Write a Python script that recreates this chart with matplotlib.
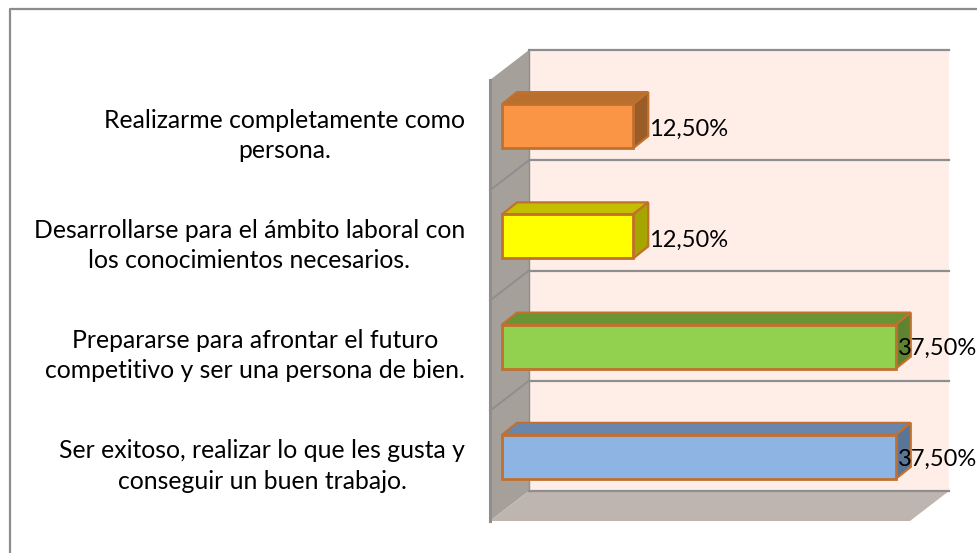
import numpy as np
import matplotlib
matplotlib.use("Agg")
import matplotlib.pyplot as plt
from matplotlib.patches import Polygon

# ===== DATOS =====
categorias = [
    "Ser exitoso, realizar lo que les gusta y\nconseguir un buen trabajo.",
    "Prepararse para afrontar el futuro\ncompetitivo y ser una persona de bien.",
    "Desarrollarse para el ámbito laboral con\nlos conocimientos necesarios.",
    "Realizarme completamente como\npersona.",
]
valores = [37.5, 37.5, 12.5, 12.5]
etiquetas = ["37,50%", "37,50%", "12,50%", "12,50%"]

# colores de cada barra: frente, tapa, lateral
frente = ["#8DB4E2", "#92D050", "#FFFF00", "#FB9546"]
tapa = ["#6A86AC", "#6A9331", "#C4BE00", "#B9702F"]
lateral = ["#5A7596", "#5F8330", "#A6A600", "#9B5D28"]
borde = "#C0702F"

plt.rcParams["font.family"] = ["Lato", "DejaVu Sans"]

W, H = 978, 553
fig = plt.figure(figsize=(W / 100, H / 100), dpi=100)

# marco del grafico: solo izquierda y arriba llegan a verse
fig.add_artist(plt.Line2D([9.5 / W, 9.5 / W, 1], [0, 1 - 9 / H, 1 - 9 / H],
                          color="#8C8C8C", lw=1.6))

# ===== EJES (plano frontal) =====
ax = fig.add_axes([490 / W, 1 - 521 / H, 420 / W, 441 / H])
ax.set_xlim(0, 40)
ax.set_ylim(0, 4)
ax.patch.set_alpha(0)
for s in ax.spines.values():
    s.set_visible(False)
ax.tick_params(length=0, labelbottom=False, pad=18, labelsize=17.8)
ax.set_xticks([])

# profundidad del 3D en unidades de datos
dx = 39 / 10.5
dy = 30 / 110.25
# hueco entre la pared y la barra
gap_x = 12 / 10.5
bar_dx = 15 / 10.5
bar_dy = 12 / 110.25
alto = 44 / 110.25


def poli(puntos, color, ec="none", lw=0, z=1):
    ax.add_patch(Polygon(puntos, closed=True, fc=color, ec=ec, lw=lw, zorder=z,
                         clip_on=False, joinstyle="miter"))


# pared del fondo, pared izquierda y suelo
poli([(dx, dy), (40 + dx, dy), (40 + dx, 4 + dy), (dx, 4 + dy)], "#FEEEE7")
poli([(0, 0), (dx, dy), (dx, 4 + dy), (0, 4)], "#A6A09B")
poli([(0, 0), (dx, dy), (40 + dx, dy), (40, 0)], "#BFB5B0")

# lineas de la cuadricula
for i in range(5):
    ax.plot([dx, 40 + dx], [i + dy, i + dy], color="#8E8E8E", lw=1.6,
            clip_on=False, zorder=2)
    if 0 < i < 4:
        ax.plot([0, dx], [i, i + dy], color="#8E8E8E", lw=1.4,
                clip_on=False, zorder=2)
ax.plot([0, 0], [0, 4], color="#8E8E8E", lw=2.2, clip_on=False, zorder=2)
ax.plot([dx, dx], [dy, 4 + dy], color="#8E8E8E", lw=1.0, clip_on=False, zorder=2)

# ===== BARRAS =====
pos = np.arange(len(valores)) + 0.5
for i, v in enumerate(valores):
    y0 = pos[i] + 9 / 110.25 - alto / 2
    y1 = y0 + alto
    x0 = gap_x
    x1 = gap_x + v
    poli([(x0, y1), (x0 + bar_dx, y1 + bar_dy), (x1 + bar_dx, y1 + bar_dy), (x1, y1)],
         tapa[i], borde, 1.6, 3)
    poli([(x1, y0), (x1 + bar_dx, y0 + bar_dy), (x1 + bar_dx, y1 + bar_dy), (x1, y1)],
         lateral[i], borde, 1.6, 3)
    poli([(x0, y0), (x1, y0), (x1, y1), (x0, y1)], frente[i], borde, 2, 4)
    # las etiquetas largas quedan pegadas al borde de la figura
    off = (1.5, -1.5) if v > 30 else (11.5, -2.5)
    ax.annotate(etiquetas[i], (x1, (y0 + y1) / 2), xytext=off,
                textcoords="offset points", fontsize=17, color="black",
                va="center", ha="left", zorder=6, annotation_clip=False)

# el texto de dos lineas cae un poco bajo, se sube el tick
ax.set_yticks(pos + 5.5 / 110.25)
ax.set_yticklabels(categorias, ma="center", linespacing=1.38)

fig.savefig("out.png", dpi=100)
